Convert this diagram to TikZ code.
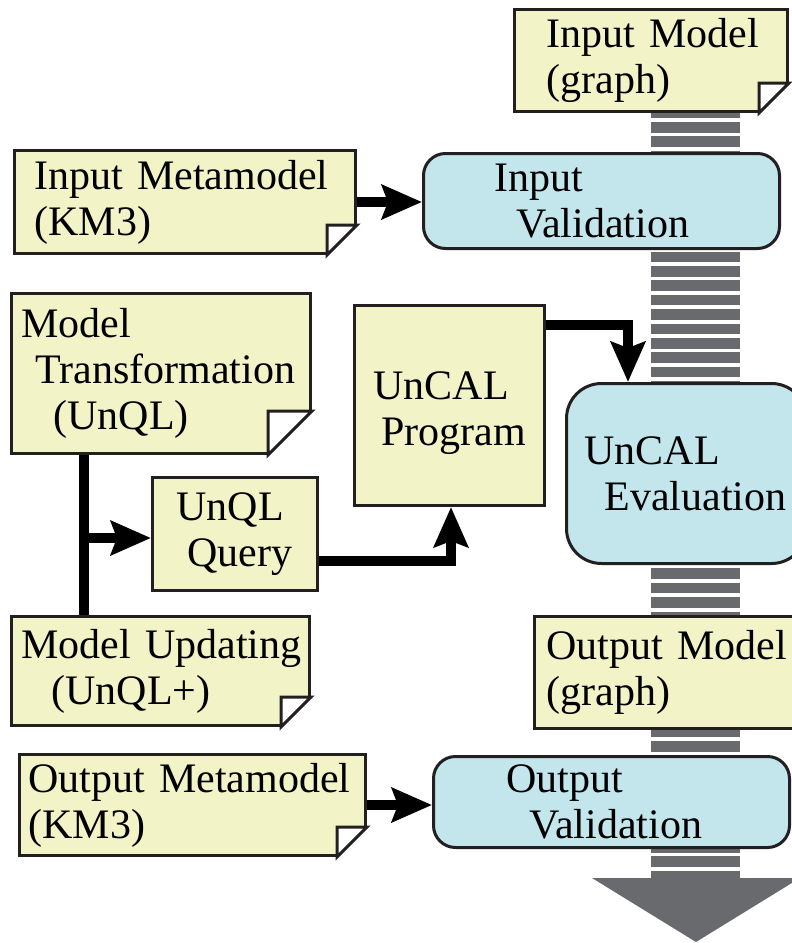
\documentclass[tikz,border=0pt]{standalone}
\usepackage{fontspec}
\setmainfont{Liberation Serif}
\usetikzlibrary{arrows.meta,calc}

\definecolor{notefill}{RGB}{243,243,200}
\definecolor{procfill}{RGB}{194,230,236}
\definecolor{edgecol}{RGB}{35,31,32}
\definecolor{stripecol}{RGB}{105,106,110}

% folded corner of a document node: #1 node name, #2 fold size
\newcommand{\dogear}[2]{%
  \fill[white] ($(#1.south east)+(-#2,-#2)$) rectangle ($(#1.south east)+(3,3)$);
  \draw[edgecol,line width=3pt,fill=white] ($(#1.south east)+(-#2,-#2)$) -- ++(#2,0) -- ($(#1.south east)+(-#2,0)$) -- cycle;}

\begin{document}
\begin{tikzpicture}[x=1pt,y=1pt,yscale=-1,
  every node/.style={font=\fontsize{42}{46}\selectfont, align=left, anchor=north west, inner ysep=0pt, line width=3pt, draw=edgecol},
  note/.style={fill=notefill},
  proc/.style={fill=procfill, rounded corners=22pt},
  bar/.style={line width=10pt},
  conn/.style={line width=10pt, line join=miter, -{Stealth[length=40pt,width=34pt,inset=6pt]}}]
\useasboundingbox (0,0) rectangle (792,943);
\clip (0,0) rectangle (792,943);
\fill[white] (0,0) rectangle (792,943);

%Striped flow band
\foreach \k in {0,...,53}
  \fill[stripecol] (651,{107.6+14.4*\k}) rectangle ++(89,10.5);
\fill[stripecol] (592,878) -- (800,878) -- (696,942) -- cycle;

% Input Model
\node[note, minimum width=273pt, minimum height=102pt, inner xsep=32pt, text width=209pt] (inmodel) at (513,8) {\mbox{Input Model}\\(graph)};
\dogear{inmodel}{30}
% Input Metamodel
\node[note, minimum width=341pt, minimum height=103pt, inner xsep=20pt, text width=301pt] (inmeta) at (13,149) {\mbox{Input Metamodel}\\(KM3)};
\dogear{inmeta}{30}
% Input Validation
\node[proc, minimum width=356pt, minimum height=95pt, inner xsep=71pt, text width=214pt] (inval) at (422,152) {Input\\\hspace*{22pt}\mbox{Validation}};

% Model Transformation
\node[note, minimum width=299pt, minimum height=160pt, inner xsep=10pt, text width=279pt] (mtrans) at (10,292) {Model\\\hspace*{14pt}\mbox{Transformation}\\\hspace*{32pt}(UnQL)};
\dogear{mtrans}{44}
% UnQL Query
\node[note, minimum width=165pt, minimum height=113pt, inner xsep=24pt, text width=117pt] (query) at (151,476) {UnQL\\\hspace*{11pt}\mbox{Query}};
% UnCAL Program
\node[note, minimum width=190pt, minimum height=200pt, inner xsep=19pt, text width=152pt, text height=43pt] (program) at (353,304) {UnCAL\\\hspace*{8pt}\mbox{Program}};
% UnCAL Evaluation
\node[proc, rounded corners=35pt, minimum width=240pt, minimum height=180pt, inner xsep=18pt, text width=204pt] (eval) at (565,382) {UnCAL\\\hspace*{20pt}\mbox{Evaluation}};

% Output Model
\node[note, minimum width=270pt, minimum height=112pt, inner xsep=12pt, text width=246pt] (outmodel) at (533,615) {\mbox{Output Model}\\(graph)};
% Model Updating
\node[note, minimum width=298pt, minimum height=109pt, inner xsep=10pt, text width=278pt] (mupd) at (10,615) {\mbox{Model Updating}\\\hspace*{30pt}(UnQL+)};
\dogear{mupd}{30}
% Output Metamodel
\node[note, minimum width=346pt, minimum height=101pt, inner xsep=9pt, text width=328pt] (outmeta) at (18,753) {\mbox{Output Metamodel}\\(KM3)};
\dogear{outmeta}{30}
% Output Validation
\node[proc, minimum width=356pt, minimum height=91pt, inner xsep=73pt, text width=210pt] (outval) at (432,755) {Output\\\hspace*{23pt}\mbox{Validation}};

%Straight Lines
\draw[conn] (inmeta.east) -- (inmeta.east -| inval.west);
\draw[conn] (outmeta.east) -- (outmeta.east -| outval.west);
\coordinate (tap) at (84,538);
\draw[bar] (mtrans.south -| tap) -- (mupd.north -| tap);
\draw[conn] (tap) -- (tap -| query.west);
\coordinate (qbend) at (451,561);
\draw[conn] (qbend -| query.east) -- (qbend) -- (qbend |- program.south);
\coordinate (pbend) at (628,325);
\draw[conn] (pbend -| program.east) -- (pbend) -- (pbend |- eval.north);

\end{tikzpicture}
\end{document}
